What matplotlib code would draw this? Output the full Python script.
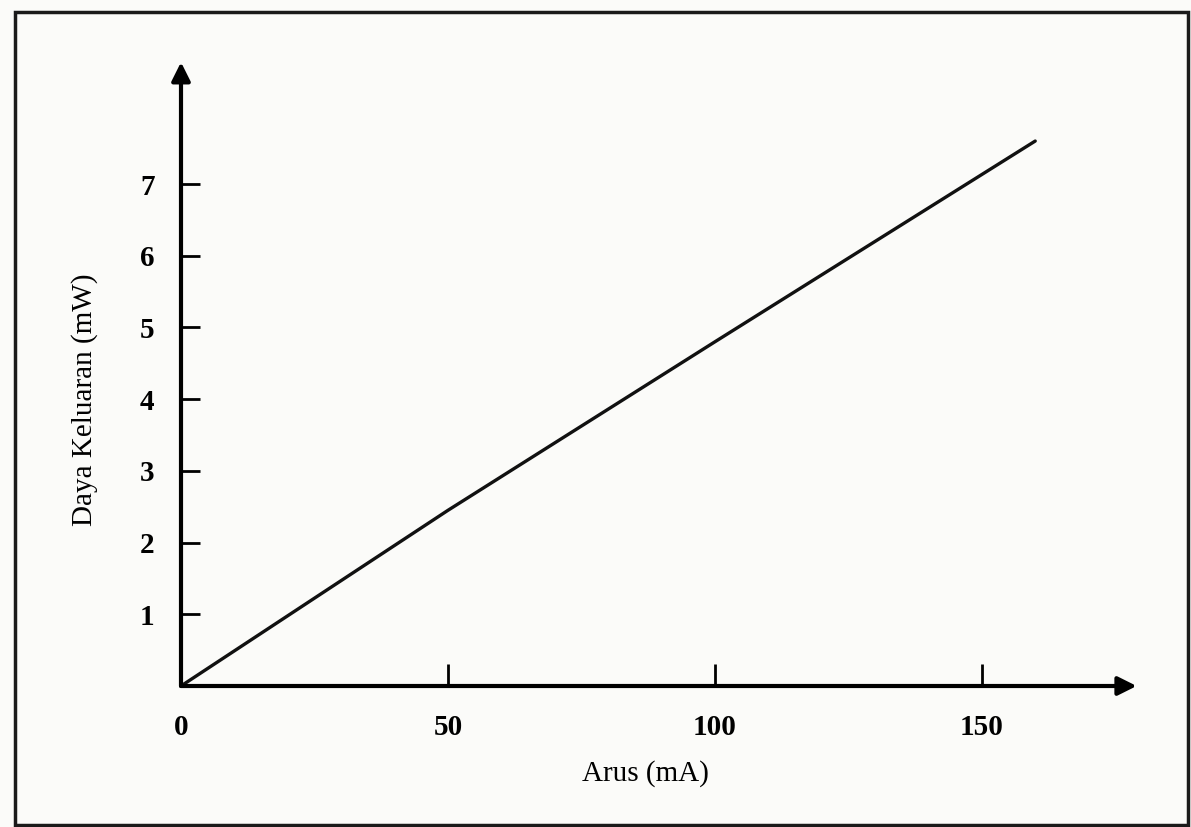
import matplotlib
matplotlib.use('Agg')
import matplotlib.pyplot as plt
from matplotlib.patches import Rectangle

# Data
arus = [0, 50, 100, 160]          # mA
daya = [0, 2.45, 4.8, 7.6]        # mW
x_ticks = [0, 50, 100, 150]
y_ticks = [1, 2, 3, 4, 5, 6, 7]
x_max = 179   # arrow tip of the x axis
y_max = 8.7   # arrow tip of the y axis

plt.rcParams['font.family'] = ['Liberation Serif', 'DejaVu Serif']

fig = plt.figure(figsize=(11.91, 8.27), dpi=100)
fig.patch.set_facecolor('#fbfbf9')

# dark border of the scanned page
fig.add_artist(Rectangle((15 / 1191, 2 / 827), 1173 / 1191, 813 / 827,
                         transform=fig.transFigure, fill=False,
                         edgecolor='#1a1a1a', linewidth=2.5))

ax = fig.add_axes([181 / 1191, 141 / 827, 961 / 1191, 631 / 827])
ax.set_facecolor('none')
ax.set_xlim(0, 180)
ax.set_ylim(0, 8.8)

ax.plot(arus, daya, color='#111111', linewidth=2.4, solid_capstyle='round')

# axes as arrows
for s in ax.spines.values():
    s.set_visible(False)
ax.annotate('', xy=(x_max, 0), xytext=(0, 0),
            arrowprops=dict(arrowstyle='-|>', color='black', lw=3, mutation_scale=28,
                            shrinkA=0, shrinkB=0), annotation_clip=False)
ax.annotate('', xy=(0, y_max), xytext=(0, 0),
            arrowprops=dict(arrowstyle='-|>', color='black', lw=3, mutation_scale=28,
                            shrinkA=0, shrinkB=0), annotation_clip=False)

ax.set_xticks(x_ticks)
ax.set_yticks(y_ticks)
ax.set_xticklabels([str(v) for v in x_ticks], fontweight='bold', fontsize=21)
ax.set_yticklabels([str(v) for v in y_ticks], fontweight='bold', fontsize=21)
ax.tick_params(axis='x', direction='in', length=16, width=2, pad=20, color='black')
ax.tick_params(axis='y', direction='in', length=14, width=2, pad=19, color='black')
ax.xaxis.get_major_ticks()[0].tick1line.set_visible(False)

ax.set_xlabel('Arus (mA)', fontsize=21)
ax.set_ylabel('Daya Keluaran (mW)', fontsize=21)
ax.xaxis.set_label_coords(0.483, -0.117)
ax.yaxis.set_label_coords(-0.086, 0.453)

fig.savefig('out.png', dpi=100, facecolor=fig.get_facecolor())
